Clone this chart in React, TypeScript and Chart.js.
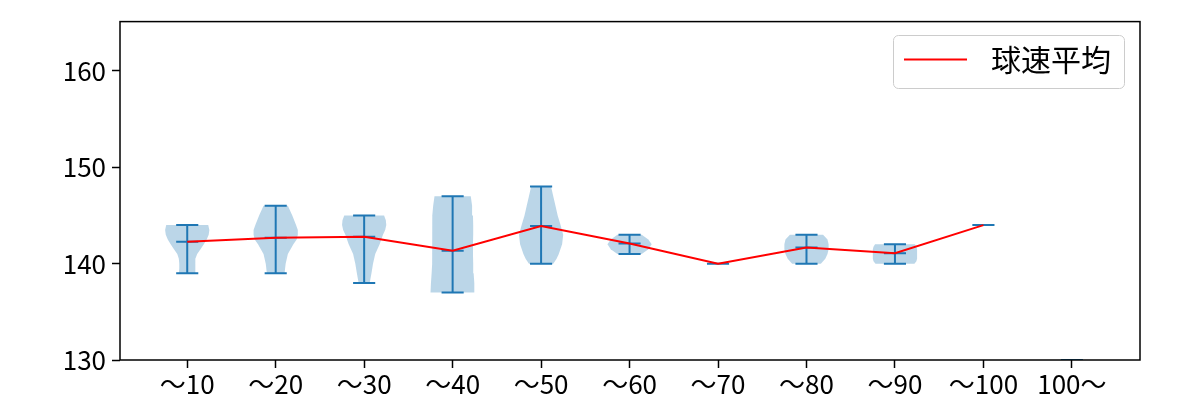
import React, { useEffect, useRef } from "react";
import { Chart, registerables } from "chart.js";

Chart.register(...registerables);

const categories = ["～10", "～20", "～30", "～40", "～50", "～60", "～70", "～80", "～90", "～100", "100～"];
const minValues = [139, 139, 138, 137, 140, 141, 140, 140, 140, 144, 130];
const maxValues = [144, 146, 145, 147, 148, 143, 140, 143, 142, 144, 130];
const meanValues = [142.26, 142.7, 142.8, 141.33, 143.9, 142.08, 140.0, 141.67, 141.09, 144.0];
const meanLabel = "球速平均";
const yTicks = [130, 140, 150, 160];

// violin body profiles: speed levels and relative half-widths
const violinLevels: number[][] = [
  [139, 139.5, 140, 140.5, 141, 141.5, 142, 142.5, 143, 143.5, 144],
  [139, 140, 141, 142, 142.5, 143, 143.5, 144, 145, 146],
  [138, 139, 140, 141, 142, 143, 143.5, 144, 144.5, 145],
  [137, 138, 139, 140, 141, 142, 143, 144, 145, 146, 147],
  [140, 140.5, 141, 142, 143, 144, 145, 146, 147, 148],
  [141, 141.5, 142, 142.5, 143],
  [],
  [140, 140.5, 141, 141.5, 142, 142.5, 143],
  [140, 140.25, 140.5, 141, 141.5, 141.75, 142],
  [],
  [],
];
const violinWidths: number[][] = [
  [0.38, 0.36, 0.36, 0.38, 0.45, 0.6, 0.75, 0.88, 0.97, 1.0, 0.95],
  [0.4, 0.45, 0.55, 0.8, 0.95, 1.0, 1.0, 0.92, 0.75, 0.55],
  [0.25, 0.33, 0.4, 0.5, 0.7, 0.85, 0.95, 1.0, 0.98, 0.9],
  [1.0, 0.98, 0.95, 0.93, 0.92, 0.92, 0.93, 0.93, 0.92, 0.88, 0.82],
  [0.55, 0.7, 0.8, 0.95, 1.0, 0.88, 0.75, 0.65, 0.55, 0.45],
  [0.55, 0.85, 1.0, 0.85, 0.55],
  [],
  [0.65, 0.85, 0.95, 1.0, 1.0, 0.95, 0.75],
  [0.88, 0.97, 1.0, 1.0, 1.0, 0.97, 0.9],
  [],
  [],
];

const VIOLIN_HALF = 0.25;
const BAR_HALF = 0.125;
const BLUE = "#1f77b4";
const FONT = "'Noto Sans CJK JP', 'Noto Sans', sans-serif";

export default function App() {
  const ref = useRef<HTMLCanvasElement | null>(null);

  useEffect(() => {
    document.body.style.margin = "0";
    const canvas = ref.current;
    if (!canvas) return;

    const datasets: any[] = [];

    datasets.push({
      type: "line",
      label: meanLabel,
      data: meanValues.map((v, i) => ({ x: i + 1, y: v })),
      borderColor: "#ff0000",
      borderWidth: 2,
      pointRadius: 0,
      fill: false,
      tension: 0,
      order: 0,
    });

    const barData: any[] = [];
    categories.forEach((_, i) => {
      const p = i + 1;
      const lo = minValues[i];
      const hi = maxValues[i];
      barData.push({ x: p - BAR_HALF, y: lo }, { x: p + BAR_HALF, y: lo }, { x: p, y: null });
      if (hi !== lo) {
        barData.push({ x: p - BAR_HALF, y: hi }, { x: p + BAR_HALF, y: hi }, { x: p, y: null });
        barData.push({ x: p, y: lo }, { x: p, y: hi }, { x: p, y: null });
      }
      if (i < meanValues.length && hi !== lo) {
        const m = meanValues[i];
        barData.push({ x: p - BAR_HALF, y: m }, { x: p + BAR_HALF, y: m }, { x: p, y: null });
      }
    });
    datasets.push({
      type: "line",
      label: "bars",
      data: barData,
      borderColor: BLUE,
      borderWidth: 2,
      pointRadius: 0,
      fill: false,
      spanGaps: false,
      tension: 0,
      order: 1,
    });

    violinLevels.forEach((levels, i) => {
      if (!levels.length) return;
      const p = i + 1;
      const w = violinWidths[i];
      const pts: any[] = [];
      levels.forEach((y, k) => pts.push({ x: p + w[k] * VIOLIN_HALF, y }));
      for (let k = levels.length - 1; k >= 0; k--) pts.push({ x: p - w[k] * VIOLIN_HALF, y: levels[k] });
      datasets.push({
        type: "line",
        label: "body" + i,
        data: pts,
        borderColor: "rgba(31,119,180,0)",
        backgroundColor: "rgba(31,119,180,0.3)",
        borderWidth: 0,
        pointRadius: 0,
        fill: "shape",
        tension: 0,
        order: 2,
      });
    });

    const boxPlugin = {
      id: "boxAndLegend",
      afterDraw(chart: any) {
        const { ctx, chartArea } = chart;
        ctx.save();
        ctx.strokeStyle = "#000";
        ctx.lineWidth = 1.5;
        ctx.strokeRect(chartArea.left, chartArea.top, chartArea.right - chartArea.left, chartArea.bottom - chartArea.top);

        const lx = 893.5, ly = 35.5, lw = 231, lh = 53, r = 5;
        ctx.beginPath();
        ctx.moveTo(lx + r, ly);
        ctx.lineTo(lx + lw - r, ly);
        ctx.arcTo(lx + lw, ly, lx + lw, ly + r, r);
        ctx.lineTo(lx + lw, ly + lh - r);
        ctx.arcTo(lx + lw, ly + lh, lx + lw - r, ly + lh, r);
        ctx.lineTo(lx + r, ly + lh);
        ctx.arcTo(lx, ly + lh, lx, ly + lh - r, r);
        ctx.lineTo(lx, ly + r);
        ctx.arcTo(lx, ly, lx + r, ly, r);
        ctx.closePath();
        ctx.fillStyle = "rgba(255,255,255,0.8)";
        ctx.fill();
        ctx.strokeStyle = "#cccccc";
        ctx.lineWidth = 1;
        ctx.stroke();

        ctx.beginPath();
        ctx.moveTo(904, 59.5);
        ctx.lineTo(967, 59.5);
        ctx.strokeStyle = "#ff0000";
        ctx.lineWidth = 2;
        ctx.stroke();

        ctx.fillStyle = "#000";
        ctx.font = "30px " + FONT;
        ctx.textBaseline = "middle";
        ctx.textAlign = "left";
        ctx.fillText(meanLabel, 991, 60);
        ctx.restore();
      },
    };

    const chart = new Chart(canvas, {
      type: "line",
      data: { datasets },
      plugins: [boxPlugin],
      options: {
        animation: false,
        responsive: false,
        maintainAspectRatio: false,
        layout: { padding: { top: 19, right: 60, left: 0, bottom: 0 } },
        plugins: { legend: { display: false }, tooltip: { enabled: false } },
        scales: {
          x: {
            type: "linear",
            min: 0.24,
            max: 11.77,
            afterBuildTicks(scale: any) {
              scale.ticks = categories.map((_, i) => ({ value: i + 1 }));
            },
            afterFit(scale: any) {
              scale.height = 40;
            },
            ticks: {
              autoSkip: false,
              maxRotation: 0,
              padding: 1,
              color: "#000",
              font: { family: FONT, size: 26 },
              callback: (v: any) => categories[Math.round(Number(v)) - 1] ?? "",
            },
            grid: { drawOnChartArea: false, drawTicks: true, tickLength: 8, tickWidth: 1.5, tickColor: "#000" },
            border: { display: false },
          },
          y: {
            type: "linear",
            min: 130,
            max: 165.12,
            afterBuildTicks(scale: any) {
              scale.ticks = yTicks.map((v) => ({ value: v }));
            },
            afterFit(scale: any) {
              scale.width = 120;
            },
            ticks: {
              padding: 6,
              color: "#000",
              font: { family: FONT, size: 26 },
            },
            grid: { drawOnChartArea: false, drawTicks: true, tickLength: 8, tickWidth: 1.5, tickColor: "#000" },
            border: { display: false },
          },
        },
      },
    });
    return () => chart.destroy();
  }, []);

  return <canvas ref={ref} width={1200} height={400} style={{ display: "block", width: 1200, height: 400 }} />;
}
